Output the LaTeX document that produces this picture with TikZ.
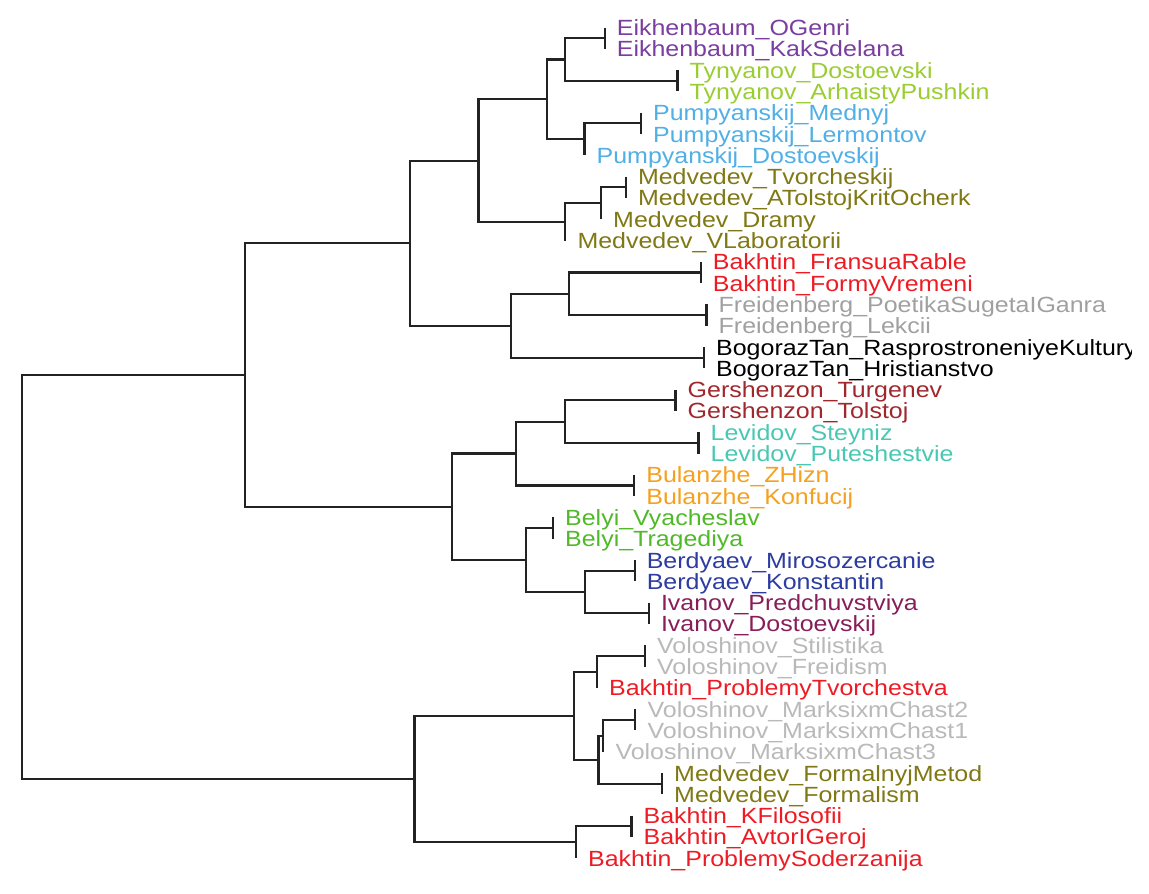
\documentclass[tikz,border=0pt]{standalone}
\usepackage{fontspec}
\setmainfont{Liberation Sans}[FakeStretch=1.135]
\usetikzlibrary{calc}
\definecolor{cEik}{RGB}{122,62,160}
\definecolor{cTyn}{RGB}{154,205,50}
\definecolor{cPum}{RGB}{80,175,228}
\definecolor{cMed}{RGB}{128,120,20}
\definecolor{cBak}{RGB}{237,28,36}
\definecolor{cFre}{RGB}{160,160,160}
\definecolor{cBog}{RGB}{0,0,0}
\definecolor{cGer}{RGB}{160,40,45}
\definecolor{cLev}{RGB}{72,200,180}
\definecolor{cBul}{RGB}{245,160,30}
\definecolor{cBel}{RGB}{80,185,40}
\definecolor{cBer}{RGB}{45,60,160}
\definecolor{cIva}{RGB}{135,30,90}
\definecolor{cVol}{RGB}{185,185,185}
\definecolor{cEdge}{RGB}{35,35,35}
\tikzset{
  edge/.style={draw=cEdge, line width=2.1pt},
  lab/.style={anchor=base west, inner sep=0pt, xshift=12pt, yshift=-8pt,
    font=\fontsize{22}{26}\selectfont},
}
\newcommand\brk[3]{\draw[edge] (#2) -- (#1 |- #2) -- (#1 |- #3) -- (#3);}
\newcommand\leafat[3]{\coordinate (#1) at (#2,{27.5+(#3-1)*21.3});}
\newcommand\mkmid[4]{\coordinate (m#1) at ($(#3)!0.5!(#4)$);
  \coordinate (x#1) at (#2,0); \coordinate (#1) at (x#1 |- m#1);}
\begin{document}
\begin{tikzpicture}[x=1pt,y=-1pt]
\useasboundingbox (0,0) rectangle (1149,894);
% leaves
\leafat{l1}{604.7}{1}
\leafat{l2}{604.7}{2}
\leafat{l3}{677.5}{3}
\leafat{l4}{677.5}{4}
\leafat{l5}{641}{5}
\leafat{l6}{641}{6}
\leafat{l7}{584.5}{7}
\leafat{l8}{625.8}{8}
\leafat{l9}{625.8}{9}
\leafat{l10}{601}{10}
\leafat{l11}{565.3}{11}
\leafat{l12}{700.7}{12}
\leafat{l13}{700.7}{13}
\leafat{l14}{706.5}{14}
\leafat{l15}{706.5}{15}
\leafat{l16}{704}{16}
\leafat{l17}{704}{17}
\leafat{l18}{675.5}{18}
\leafat{l19}{675.5}{19}
\leafat{l20}{698.5}{20}
\leafat{l21}{698.5}{21}
\leafat{l22}{634.2}{22}
\leafat{l23}{634.2}{23}
\leafat{l24}{553}{24}
\leafat{l25}{553}{25}
\leafat{l26}{634.6}{26}
\leafat{l27}{634.6}{27}
\leafat{l28}{648.8}{28}
\leafat{l29}{648.8}{29}
\leafat{l30}{645}{30}
\leafat{l31}{645}{31}
\leafat{l32}{597}{32}
\leafat{l33}{635.4}{33}
\leafat{l34}{635.4}{34}
\leafat{l35}{603.3}{35}
\leafat{l36}{662}{36}
\leafat{l37}{662}{37}
\leafat{l38}{631.5}{38}
\leafat{l39}{631.5}{39}
\leafat{l40}{576}{40}
% pair nodes
\mkmid{pEik}{604.7}{l1}{l2}
\mkmid{pTyn}{677.5}{l3}{l4}
\mkmid{pPum}{641}{l5}{l6}
\mkmid{pMed}{625.8}{l8}{l9}
\mkmid{pBak}{700.7}{l12}{l13}
\mkmid{pFre}{706.5}{l14}{l15}
\mkmid{pBog}{704}{l16}{l17}
\mkmid{pGer}{675.5}{l18}{l19}
\mkmid{pLev}{698.5}{l20}{l21}
\mkmid{pBul}{634.2}{l22}{l23}
\mkmid{pBel}{553}{l24}{l25}
\mkmid{pBer}{634.6}{l26}{l27}
\mkmid{pIva}{648.8}{l28}{l29}
\mkmid{pVol}{645}{l30}{l31}
\mkmid{pMar}{635.4}{l33}{l34}
\mkmid{pMfo}{662}{l36}{l37}
\mkmid{pBkf}{631.5}{l38}{l39}
% internal nodes
\mkmid{nF}{564.6}{pEik}{pTyn}
\mkmid{nP}{584.5}{pPum}{l7}
\mkmid{nE}{547.3}{nF}{nP}
\mkmid{nM1}{601}{pMed}{l10}
\mkmid{nM}{565.3}{nM1}{l11}
\mkmid{nC}{478.5}{nE}{nM}
\mkmid{nG}{568.8}{pBak}{pFre}
\mkmid{nD}{510.6}{nG}{pBog}
\mkmid{nA}{410}{nC}{nD}
\mkmid{nI}{565}{pGer}{pLev}
\mkmid{nH}{516}{nI}{pBul}
\mkmid{nN}{584.8}{pBer}{pIva}
\mkmid{nK}{526.3}{pBel}{nN}
\mkmid{nB}{451.7}{nH}{nK}
\mkmid{nU}{245}{nA}{nB}
\mkmid{nV1}{597}{pVol}{l32}
\mkmid{nV3}{603.3}{pMar}{l35}
\mkmid{nV2}{598.5}{nV3}{pMfo}
\mkmid{nV}{574.1}{nV1}{nV2}
\mkmid{nW}{576}{pBkf}{l40}
\mkmid{nL}{414.5}{nV}{nW}
\mkmid{nR}{22}{nU}{nL}
% pairs
\brk{pEik}{l1}{l2}
\brk{pTyn}{l3}{l4}
\brk{pPum}{l5}{l6}
\brk{pMed}{l8}{l9}
\brk{pBak}{l12}{l13}
\brk{pFre}{l14}{l15}
\brk{pBog}{l16}{l17}
\brk{pGer}{l18}{l19}
\brk{pLev}{l20}{l21}
\brk{pBul}{l22}{l23}
\brk{pBel}{l24}{l25}
\brk{pBer}{l26}{l27}
\brk{pIva}{l28}{l29}
\brk{pVol}{l30}{l31}
\brk{pMar}{l33}{l34}
\brk{pMfo}{l36}{l37}
\brk{pBkf}{l38}{l39}
% internal
\brk{nF}{pEik}{pTyn}
\brk{nP}{pPum}{l7}
\brk{nE}{nF}{nP}
\brk{nM1}{pMed}{l10}
\brk{nM}{nM1}{l11}
\brk{nC}{nE}{nM}
\brk{nG}{pBak}{pFre}
\brk{nD}{nG}{pBog}
\brk{nA}{nC}{nD}
\brk{nI}{pGer}{pLev}
\brk{nH}{nI}{pBul}
\brk{nN}{pBer}{pIva}
\brk{nK}{pBel}{nN}
\brk{nB}{nH}{nK}
\brk{nU}{nA}{nB}
\brk{nV1}{pVol}{l32}
\brk{nV3}{pMar}{l35}
\brk{nV2}{nV3}{pMfo}
\brk{nV}{nV1}{nV2}
\brk{nW}{pBkf}{l40}
\brk{nL}{nV}{nW}
\brk{nR}{nU}{nL}
% labels
\node[lab,text=cEik] (t1) at (l1) {Eikhenbaum\_OGenri};
\node[lab,text=cEik] (t2) at (l2) {Eikhenbaum\_KakSdelana};
\node[lab,text=cTyn] (t3) at (l3) {Tynyanov\_Dostoevski};
\node[lab,text=cTyn] (t4) at (l4) {Tynyanov\_ArhaistyPushkin};
\node[lab,text=cPum] (t5) at (l5) {Pumpyanskij\_Mednyj};
\node[lab,text=cPum] (t6) at (l6) {Pumpyanskij\_Lermontov};
\node[lab,text=cPum] (t7) at (l7) {Pumpyanskij\_Dostoevskij};
\node[lab,text=cMed] (t8) at (l8) {Medvedev\_Tvorcheskij};
\node[lab,text=cMed] (t9) at (l9) {Medvedev\_ATolstojKritOcherk};
\node[lab,text=cMed] (t10) at (l10) {Medvedev\_Dramy};
\node[lab,text=cMed] (t11) at (l11) {Medvedev\_VLaboratorii};
\node[lab,text=cBak] (t12) at (l12) {Bakhtin\_FransuaRable};
\node[lab,text=cBak] (t13) at (l13) {Bakhtin\_FormyVremeni};
\node[lab,text=cFre] (t14) at (l14) {Freidenberg\_PoetikaSugetaIGanra};
\node[lab,text=cFre] (t15) at (l15) {Freidenberg\_Lekcii};
\begin{scope}
\clip (0,0) rectangle (1131.5,894);
\node[lab,text=cBog] (t16) at (l16) {BogorazTan\_RasprostroneniyeKultury};
\end{scope}
\node[lab,text=cBog] (t17) at (l17) {BogorazTan\_Hristianstvo};
\node[lab,text=cGer] (t18) at (l18) {Gershenzon\_Turgenev};
\node[lab,text=cGer] (t19) at (l19) {Gershenzon\_Tolstoj};
\node[lab,text=cLev] (t20) at (l20) {Levidov\_Steyniz};
\node[lab,text=cLev] (t21) at (l21) {Levidov\_Puteshestvie};
\node[lab,text=cBul] (t22) at (l22) {Bulanzhe\_ZHizn};
\node[lab,text=cBul] (t23) at (l23) {Bulanzhe\_Konfucij};
\node[lab,text=cBel] (t24) at (l24) {Belyi\_Vyacheslav};
\node[lab,text=cBel] (t25) at (l25) {Belyi\_Tragediya};
\node[lab,text=cBer] (t26) at (l26) {Berdyaev\_Mirosozercanie};
\node[lab,text=cBer] (t27) at (l27) {Berdyaev\_Konstantin};
\node[lab,text=cIva] (t28) at (l28) {Ivanov\_Predchuvstviya};
\node[lab,text=cIva] (t29) at (l29) {Ivanov\_Dostoevskij};
\node[lab,text=cVol] (t30) at (l30) {Voloshinov\_Stilistika};
\node[lab,text=cVol] (t31) at (l31) {Voloshinov\_Freidism};
\node[lab,text=cBak] (t32) at (l32) {Bakhtin\_ProblemyTvorchestva};
\node[lab,text=cVol] (t33) at (l33) {Voloshinov\_MarksixmChast2};
\node[lab,text=cVol] (t34) at (l34) {Voloshinov\_MarksixmChast1};
\node[lab,text=cVol] (t35) at (l35) {Voloshinov\_MarksixmChast3};
\node[lab,text=cMed] (t36) at (l36) {Medvedev\_FormalnyjMetod};
\node[lab,text=cMed] (t37) at (l37) {Medvedev\_Formalism};
\node[lab,text=cBak] (t38) at (l38) {Bakhtin\_KFilosofii};
\node[lab,text=cBak] (t39) at (l39) {Bakhtin\_AvtorIGeroj};
\node[lab,text=cBak] (t40) at (l40) {Bakhtin\_ProblemySoderzanija};
\end{tikzpicture}
\end{document}
